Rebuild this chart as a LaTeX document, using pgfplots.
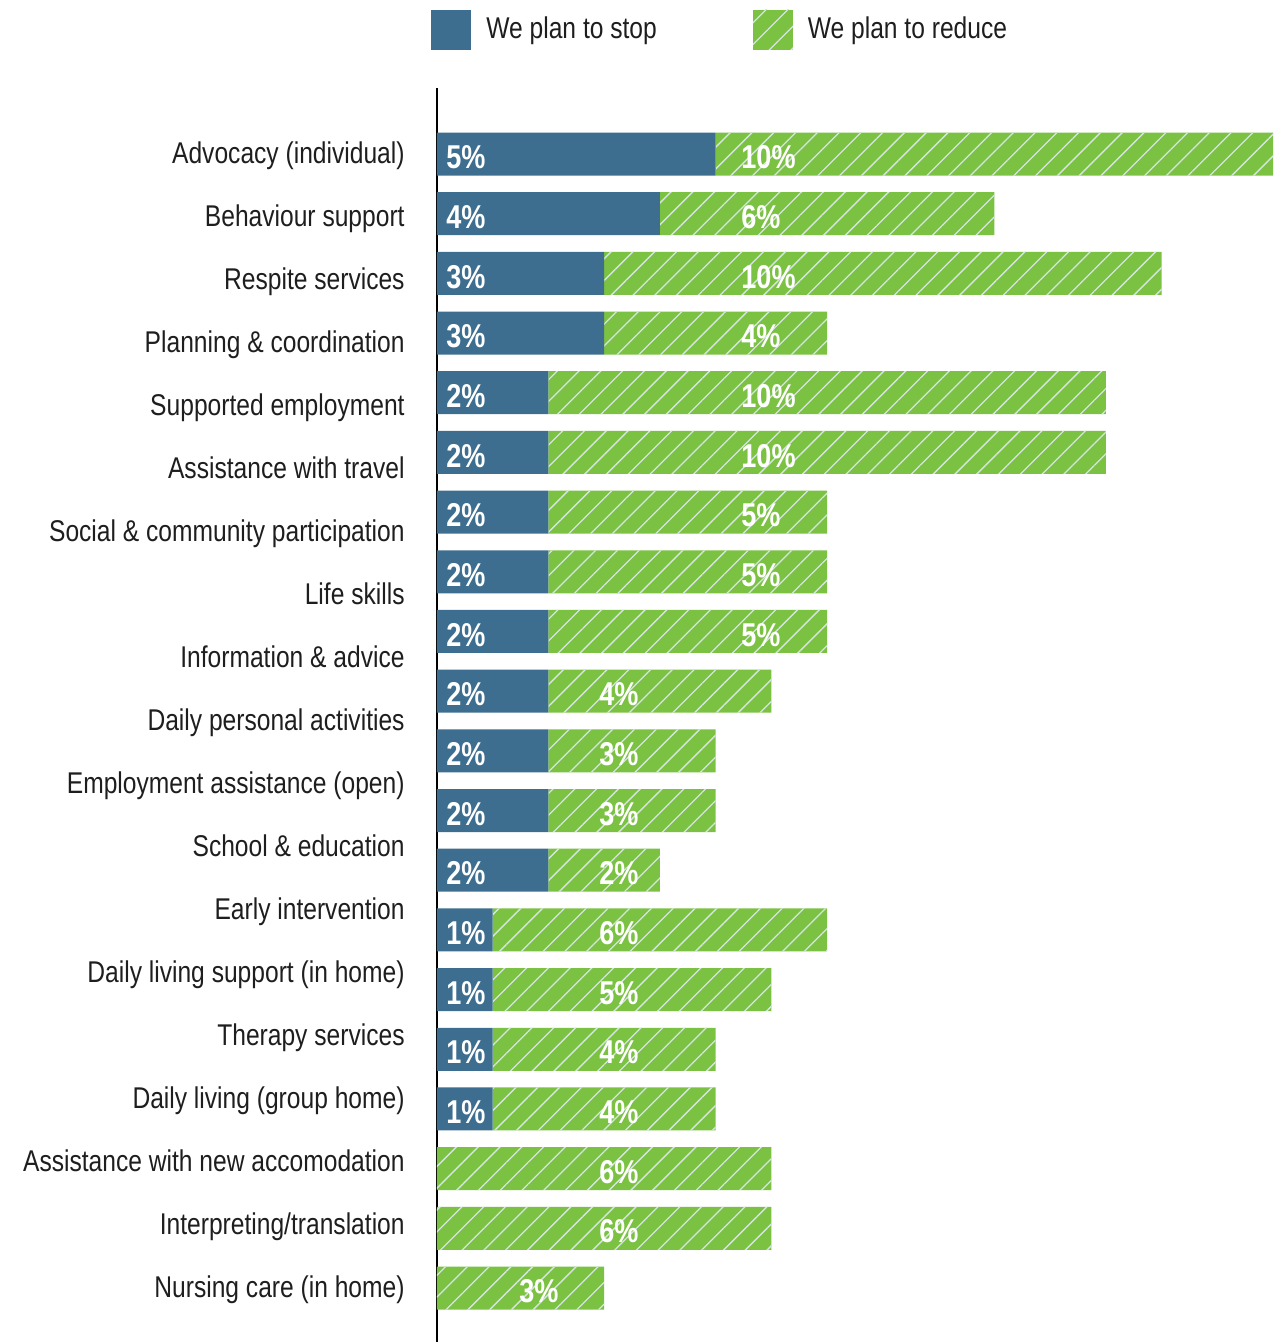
\documentclass[border=0pt]{standalone}
\usepackage{fontspec}
\setmainfont{Liberation Sans}[FakeStretch=0.82]
\usepackage{pgfplots}
\usepackage{pgfplotstable}
\pgfplotsset{compat=1.18}
\usetikzlibrary{patterns.meta}
\definecolor{stopblue}{RGB}{61,110,143}
\definecolor{redgreen}{RGB}{123,193,66}
\definecolor{hatch}{RGB}{215,228,228}
\definecolor{txt}{RGB}{30,30,30}

\tikzset{lbl/.style={anchor=west, inner sep=0pt, text=white, font=\fontsize{16.5}{19}\selectfont\bfseries, text height=0.716em, text depth=0pt, yshift=-3.75pt}}

\pgfplotstableread{
row stop reduce
0 5 10
1 4 6
2 3 10
3 3 4
4 2 10
5 2 10
6 2 5
7 2 5
8 2 5
9 2 4
10 2 3
11 2 3
12 2 2
13 1 6
14 1 5
15 1 4
16 1 4
17 0 6
18 0 6
19 0 3
}\datatable

\newcommand{\bl}[2]{\node[lbl, xshift=4.5pt] at (axis cs:0,#1) {#2\%};}
\newcommand{\gl}[3]{\node[lbl] at (axis cs:#1,#2) {#3\%};}

\begin{document}
\begin{tikzpicture}
\useasboundingbox (-218.5pt,0pt) rectangle (418pt,671pt);
\begin{axis}[
  at={(0pt,0pt)}, anchor=south west,
  scale only axis, width=418pt, height=627pt,
  xbar stacked, bar width=21.5pt,
  xmin=0, xmax=15, ymin=-1.106, ymax=19.905, y dir=reverse,
  axis x line=none, axis y line*=left,
  axis line style={-, line width=1.3pt, black},
  ytick={0,1.0556,2.1111,3.1667,4.2222,5.2778,6.3333,7.3889,8.4444,9.5,10.5556,11.6111,12.6667,13.7222,14.7778,15.8333,16.8889,17.9444,19},
  yticklabels={Advocacy (individual),Behaviour support,Respite services,Planning \& coordination,Supported employment,Assistance with travel,Social \& community participation,Life skills,Information \& advice,Daily personal activities,Employment assistance (open),School \& education,Early intervention,Daily living support (in home),Therapy services,Daily living (group home),Assistance with new accomodation,Interpreting/translation,Nursing care (in home)},
  major tick length=0pt,
  yticklabel style={font=\fontsize{15}{18}\selectfont, text=txt, inner sep=0pt, text height=0.716em, text depth=0pt, xshift=-16pt, yshift=-1.25pt},
  clip=false,
  legend columns=2,
  legend cell align=left,
  legend image code/.code={\fill[#1] (0pt,-10pt) rectangle (20pt,10pt);},
  legend style={at={(0,1)}, anchor=south west, xshift=-3pt, yshift=19pt, draw=none, fill=none, inner sep=0pt,
    font=\fontsize{15}{18}\selectfont, text=txt,
    /tikz/every odd column/.append style={column sep=5.5pt},
    /tikz/every even column/.append style={column sep=46pt}},
  after end axis/.code={%
    \bl{0}{5}\bl{1}{4}\bl{2}{3}\bl{3}{3}\bl{4}{2}\bl{5}{2}\bl{6}{2}\bl{7}{2}\bl{8}{2}\bl{9}{2}\bl{10}{2}\bl{11}{2}\bl{12}{2}\bl{13}{1}\bl{14}{1}\bl{15}{1}\bl{16}{1}%
    \gl{5.455}{0}{10}\gl{5.455}{1}{6}\gl{5.455}{2}{10}\gl{5.455}{3}{4}\gl{5.455}{4}{10}\gl{5.455}{5}{10}\gl{5.455}{6}{5}\gl{5.455}{7}{5}\gl{5.455}{8}{5}%
    \gl{2.907}{9}{4}\gl{2.907}{10}{3}\gl{2.907}{11}{3}\gl{2.907}{12}{2}\gl{2.907}{13}{6}\gl{2.907}{14}{5}\gl{2.907}{15}{4}\gl{2.907}{16}{4}\gl{2.907}{17}{6}\gl{2.907}{18}{6}%
    \gl{1.471}{19}{3}%
  },
]
\addplot[fill=stopblue, draw=none] table[x=stop, y=row] {\datatable};
\addplot[fill=redgreen, draw=none, postaction={pattern color=hatch, pattern={Lines[angle=45,distance=7.7pt,line width=0.65pt]}}] table[x=reduce, y=row] {\datatable};
\legend{We plan to stop, We plan to reduce}
\end{axis}
\end{tikzpicture}
\end{document}
